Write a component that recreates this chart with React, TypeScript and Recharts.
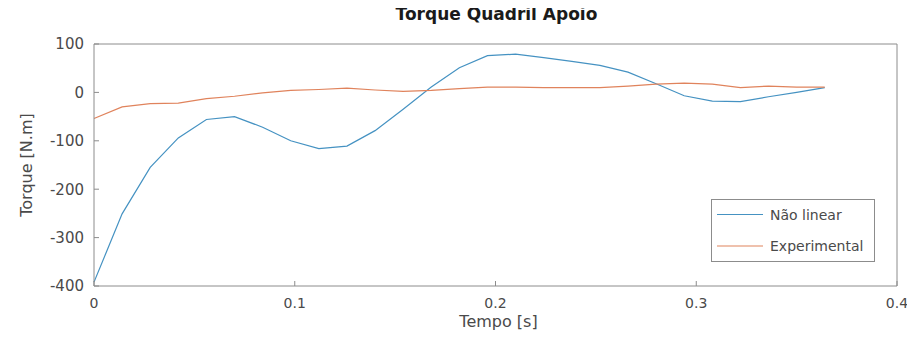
import React from "react";
import { LineChart, Line, XAxis, YAxis, Legend } from "recharts";

// amostras de tempo [s]
const tempo = [
  0, 0.014, 0.028, 0.042, 0.056, 0.07, 0.084, 0.098, 0.112, 0.126, 0.14, 0.154, 0.168,
  0.182, 0.196, 0.21, 0.224, 0.238, 0.252, 0.266, 0.28, 0.294, 0.308, 0.322, 0.336, 0.35, 0.364,
];

// torque [N.m]
const naoLinear = [
  -392, -251, -155, -94, -56, -50, -72, -100, -116, -111, -79, -35, 11,
  51, 76, 79, 72, 64, 56, 42, 18, -7, -18, -19, -9, 0, 10,
];
const experimental = [
  -54, -30, -23, -22, -13, -8, -1, 4, 6, 9, 5, 2, 4,
  8, 11, 11, 10, 10, 10, 13, 17, 19, 17, 10, 13, 11, 11,
];

const xTicks = [0, 0.1, 0.2, 0.3, 0.4];
const yTicks = [-400, -300, -200, -100, 0, 100];

const series = [
  { key: "naoLinear", name: "Não linear", color: "#4592c2" },
  { key: "experimental", name: "Experimental", color: "#e0835c" },
];

const data = tempo.map((t, i) => ({
  t,
  naoLinear: naoLinear[i],
  experimental: experimental[i],
}));

const axisColor = "#8c8c8c";
const textColor = "#4a4a4a";

function LegendBox() {
  return (
    <svg width={164} height={63} style={{ display: "block" }}>
      <rect x={0.5} y={0.5} width={163} height={62} fill="#fff" stroke={axisColor} />
      {series.map((s, i) => (
        <g key={s.key}>
          <line x1={6} x2={52} y1={15.5 + i * 31.5} y2={15.5 + i * 31.5} stroke={s.color} strokeWidth={1.2} />
          <text x={59} y={15.5 + i * 31.5} dominantBaseline="central" fontSize={14} fill={textColor}>
            {s.name}
          </text>
        </g>
      ))}
    </svg>
  );
}

function Title(props: any) {
  const vb = props.viewBox;
  return (
    <text x={vb.x + vb.width / 2 + 1} y={20} textAnchor="middle" fontSize={17} fontWeight="bold" fill="#1a1a1a">
      Torque Quadril Apoio
    </text>
  );
}

function XTitle(props: any) {
  const vb = props.viewBox;
  return (
    <text x={vb.x + vb.width / 2 + 3} y={vb.y + 41} textAnchor="middle" fontSize={16} fill={textColor}>
      Tempo [s]
    </text>
  );
}

function YTitle(props: any) {
  const vb = props.viewBox;
  const x = vb.x + 26;
  const y = vb.y + vb.height / 2;
  return (
    <text
      x={x}
      y={y}
      transform={`rotate(-90, ${x}, ${y})`}
      textAnchor="middle"
      dominantBaseline="central"
      fontSize={16}
      fill={textColor}
    >
      Torque [N.m]
    </text>
  );
}

export default function App() {
  const tickStyle = { fontSize: 14, fill: textColor };
  return (
    <div style={{ position: "relative", left: -8, top: -8, fontFamily: "'DejaVu Sans', sans-serif" }}>
      <LineChart width={915} height={346} data={data} margin={{ top: 0, right: 0, bottom: 0, left: 0 }}>
        <XAxis
          dataKey="t"
          type="number"
          domain={[0, 0.4]}
          ticks={xTicks}
          height={60}
          stroke={axisColor}
          tick={tickStyle}
          tickSize={-5}
          tickMargin={17}
          label={XTitle}
        />
        <XAxis
          xAxisId="top"
          orientation="top"
          dataKey="t"
          type="number"
          domain={[0, 0.4]}
          ticks={xTicks}
          height={44}
          stroke={axisColor}
          tick={false}
          tickSize={-5}
          label={Title}
        />
        <YAxis
          type="number"
          domain={[-400, 100]}
          ticks={yTicks}
          width={94}
          stroke={axisColor}
          tick={{ fontSize: 15, fill: textColor }}
          tickSize={-5}
          tickMargin={15}
          label={YTitle}
        />
        <YAxis
          yAxisId="r"
          orientation="right"
          type="number"
          domain={[-400, 100]}
          ticks={yTicks}
          width={18}
          stroke={axisColor}
          tick={false}
          tickSize={-5}
        />
        <Legend
          layout="horizontal"
          verticalAlign="middle"
          align="center"
          content={LegendBox}
          wrapperStyle={{ position: "absolute", left: 711, top: 199, width: 164, height: 63 }}
        />
        {series.map((s) => (
          <Line
            key={s.key}
            type="linear"
            dataKey={s.key}
            name={s.name}
            stroke={s.color}
            strokeWidth={1.2}
            dot={false}
            isAnimationActive={false}
          />
        ))}
      </LineChart>
    </div>
  );
}
